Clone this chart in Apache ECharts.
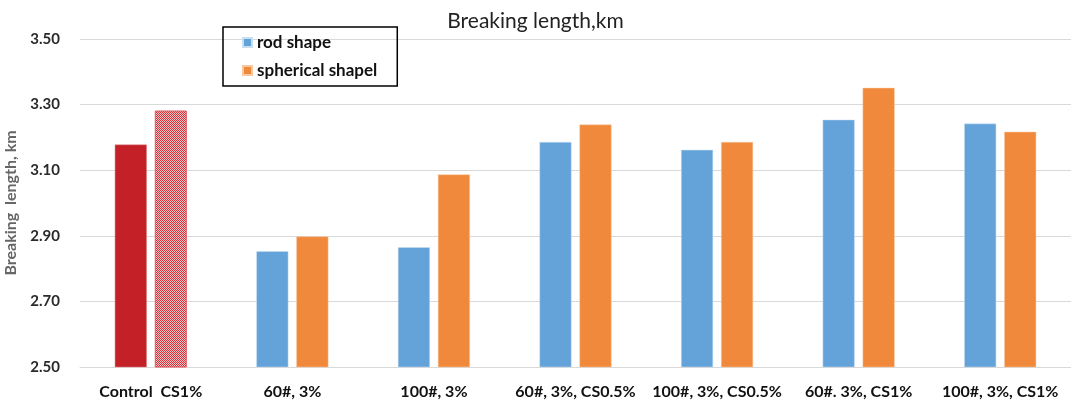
<!DOCTYPE html>
<html>
<head>
<meta charset="utf-8">
<script src="https://cdn.jsdelivr.net/npm/echarts@6/dist/echarts.min.js"></script>
<style>
html,body{margin:0;padding:0;background:#fff;}
#c{width:1071px;height:402px;}
</style>
</head>
<body>
<div id="c"></div>
<script>
const categories = ['Control  CS1%', '60#, 3%', '100#, 3%', '60#, 3%, CS0.5%', '100#, 3%, CS0.5%', '60#. 3%, CS1%', '100#, 3%, CS1%'];
const rodShape = [3.178, 2.853, 2.865, 3.186, 3.162, 3.254, 3.242];
const sphericalShape = [3.282, 2.898, 3.087, 3.239, 3.186, 3.351, 3.217];
const seriesNames = ['rod shape', 'spherical shapel'];
const yTicks = {min: 2.5, max: 3.5, interval: 0.2};

// checker pattern for the hatched control bar
const pc = document.createElement('canvas');
pc.width = 2; pc.height = 2;
const px = pc.getContext('2d');
px.fillStyle = '#f3c4c6'; px.fillRect(0,0,2,2);
px.fillStyle = '#d9323a'; px.fillRect(0,0,1,1); px.fillRect(1,1,1,1);

const chart = echarts.init(document.getElementById('c'));
const font = 'Lato, "Open Sans", sans-serif';
chart.setOption({
  animation: false,
  title: {
    text: 'Breaking length,km', left: 'center', top: 6,
    textStyle: {fontFamily: font, fontSize: 21, fontWeight: 'normal', color: '#222'}
  },
  legend: {
    orient: 'vertical', left: 223, top: 27,
    data: seriesNames,
    icon: 'rect', itemWidth: 9, itemHeight: 9, itemGap: 11,
    borderColor: '#000', borderWidth: 1.5,
    padding: [7, 20, 7, 19],
    textStyle: {fontFamily: font, fontSize: 17, fontWeight: 'bold', color: '#111'}
  },
  grid: {left: 80, right: 0, top: 39, bottom: 35, containLabel: false, outerBoundsMode: 'none'},
  xAxis: {
    type: 'category', data: categories,
    axisLine: {lineStyle: {color: '#d9d9d9'}},
    axisTick: {show: false},
    axisLabel: {interval: 0, margin: 17, fontFamily: font, fontSize: 16, fontWeight: 'bold', color: '#111'}
  },
  yAxis: {
    type: 'value', min: yTicks.min, max: yTicks.max, interval: yTicks.interval,
    name: 'Breaking  length, km', nameLocation: 'middle', nameGap: 61, nameRotate: 90,
    nameTextStyle: {fontFamily: font, fontSize: 16, fontWeight: 'bold', color: '#666'},
    axisLine: {show: false}, axisTick: {show: false},
    axisLabel: {margin: 20, formatter: v => v.toFixed(2), fontFamily: font, fontSize: 15, fontWeight: 'bold', color: '#2a2a2a'},
    splitLine: {lineStyle: {color: '#d9d9d9', width: 1}}
  },
  series: [
    {
      name: seriesNames[0], type: 'bar', barWidth: 32, barGap: '25%',
      itemStyle: {color: '#63a3d9', borderColor: '#c9def2', borderWidth: 0.5},
      data: rodShape.map((v, i) => i === 0 ? {value: v, itemStyle: {color: '#c42028', borderColor: '#e08085'}} : v)
    },
    {
      name: seriesNames[1], type: 'bar', barWidth: 32,
      itemStyle: {color: '#f0893b', borderColor: '#f8c9a0', borderWidth: 0.5},
      data: sphericalShape.map((v, i) => i === 0 ? {value: v, itemStyle: {color: {image: pc, repeat: 'repeat'}, borderColor: '#e2555c', borderWidth: 1}} : v)
    }
  ]
});
</script>
</body>
</html>
